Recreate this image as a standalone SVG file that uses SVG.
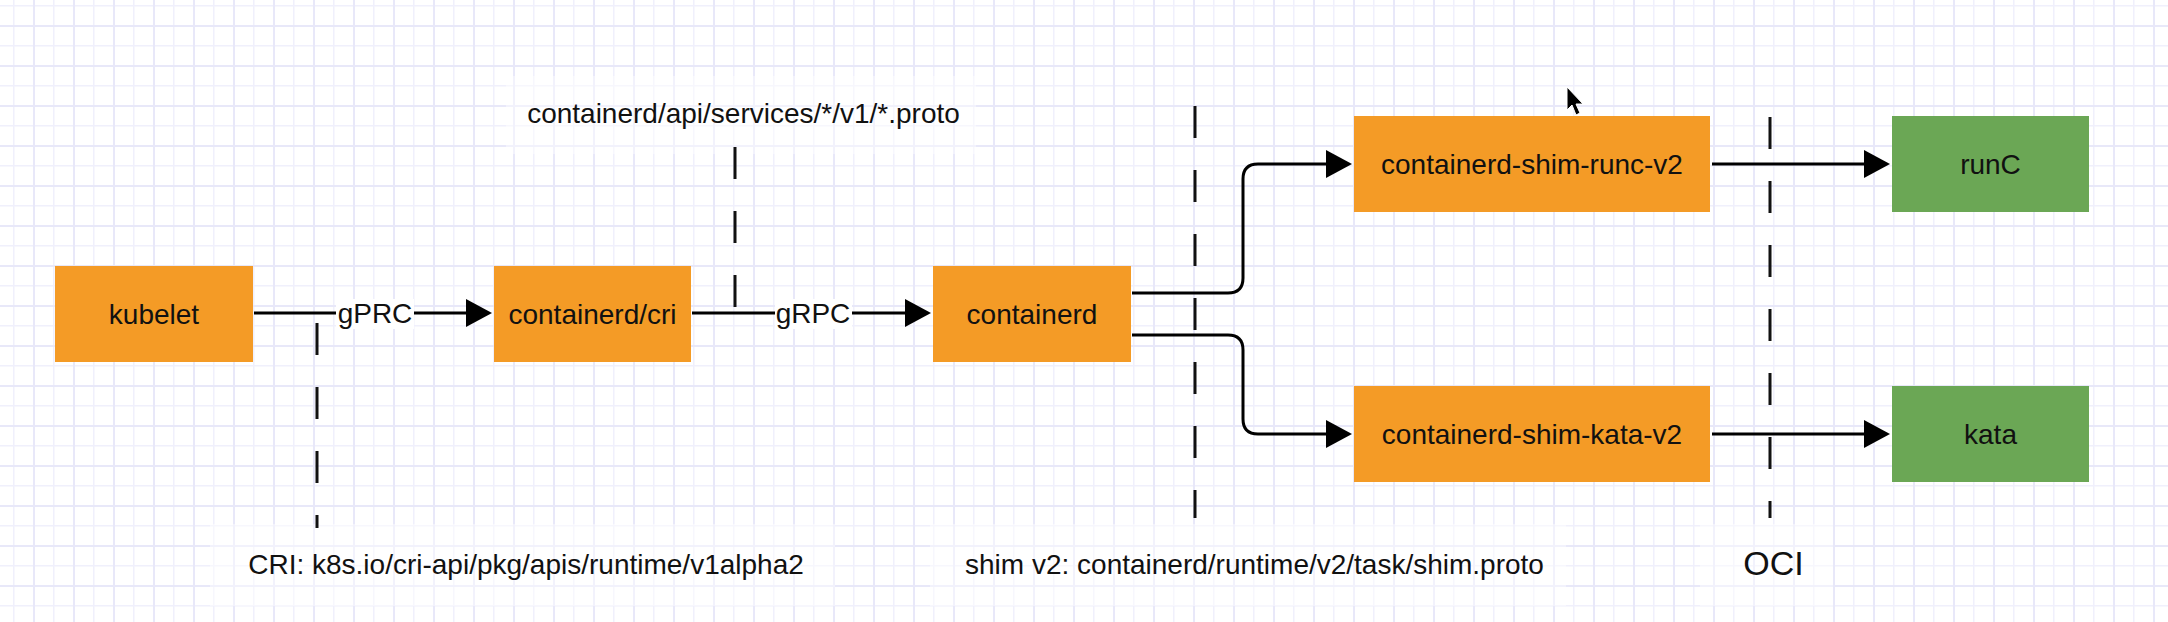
<svg xmlns="http://www.w3.org/2000/svg" width="2168" height="622" viewBox="0 0 2168 622">
<style>
  .t { font-family: "Liberation Sans", Arial, Helvetica, sans-serif; font-size: 28px; fill: #111; text-anchor: middle; }
  .orange { fill: #F49B26; }
  .green { fill: #6BA755; }
  .edge { fill: none; stroke: #000; stroke-width: 3; }
  .dash { fill: none; stroke: #111; stroke-width: 3; stroke-dasharray: 32 32; }
  .lblbg { fill: #fff; }
  .band { fill: #fff; opacity: 0.45; }
</style>
<defs>
  <pattern id="grid" patternUnits="userSpaceOnUse" x="13" y="5" width="40" height="40">
    <rect x="0" y="0" width="1.5" height="40" fill="#f0f0fc"/>
    <rect x="0" y="0" width="40" height="1.5" fill="#f0f0fc"/>
    <rect x="20" y="0" width="2" height="40" fill="#e8e8f9"/>
    <rect x="0" y="20" width="40" height="2" fill="#e8e8f9"/>
  </pattern>
  <marker id="arrow" markerUnits="userSpaceOnUse" viewBox="0 0 26 28" refX="1" refY="14" markerWidth="26" markerHeight="28" orient="auto">
    <path d="M0,0 L26,14 L0,28 Z" fill="#000"/>
  </marker>
</defs>

<rect x="0" y="0" width="2168" height="622" fill="#fff"/>
<rect x="0" y="0" width="2168" height="622" fill="url(#grid)"/>

<!-- whitish label bands -->
<rect class="band" x="506" y="76" width="470" height="78"/>
<rect class="band" x="210" y="524" width="625" height="82"/>
<rect class="band" x="930" y="524" width="636" height="82"/>
<rect class="band" x="1700" y="524" width="133" height="82"/>

<!-- dashed separators -->
<g id="separators">
  <line class="dash" x1="735" y1="147" x2="735" y2="307"/>
  <line class="dash" x1="317" y1="323" x2="317" y2="528"/>
  <line class="dash" x1="1195" y1="106" x2="1195" y2="518"/>
  <line class="dash" x1="1770" y1="117" x2="1770" y2="518"/>
</g>

<!-- connectors -->
<g id="connectors">
  <path class="edge" d="M254,313 H467" marker-end="url(#arrow)"/>
  <rect class="lblbg" x="336" y="299" width="78" height="30"/>
  <text class="t" x="375" y="323">gPRC</text>

  <path class="edge" d="M692,313 H906" marker-end="url(#arrow)"/>
  <rect class="lblbg" x="775" y="299" width="77" height="30"/>
  <text class="t" x="813" y="323">gRPC</text>

  <path class="edge" d="M1132,293 H1228 Q1243,293 1243,278 V179 Q1243,164 1258,164 H1327" marker-end="url(#arrow)"/>
  <path class="edge" d="M1132,335 H1228 Q1243,335 1243,350 V419 Q1243,434 1258,434 H1327" marker-end="url(#arrow)"/>
  <path class="edge" d="M1712,164 H1865" marker-end="url(#arrow)"/>
  <path class="edge" d="M1712,434 H1865" marker-end="url(#arrow)"/>
</g>

<!-- nodes -->
<g id="kubelet">
  <rect class="orange" x="55" y="266" width="198" height="96"/>
  <text class="t" x="154" y="324">kubelet</text>
</g>
<g id="containerd-cri">
  <rect class="orange" x="494" y="266" width="197" height="96"/>
  <text class="t" x="592.5" y="324">containerd/cri</text>
</g>
<g id="containerd">
  <rect class="orange" x="933" y="266" width="198" height="96"/>
  <text class="t" x="1032" y="324">containerd</text>
</g>
<g id="shim-runc">
  <rect class="orange" x="1354" y="116" width="356" height="96"/>
  <text class="t" x="1532" y="174">containerd-shim-runc-v2</text>
</g>
<g id="shim-kata">
  <rect class="orange" x="1354" y="386" width="356" height="96"/>
  <text class="t" x="1532" y="444">containerd-shim-kata-v2</text>
</g>
<g id="runc">
  <rect class="green" x="1892" y="116" width="197" height="96"/>
  <text class="t" x="1990.5" y="174">runC</text>
</g>
<g id="kata">
  <rect class="green" x="1892" y="386" width="197" height="96"/>
  <text class="t" x="1990.5" y="444">kata</text>
</g>

<!-- free labels -->
<g id="labels">
  <text class="t" x="743.5" y="123">containerd/api/services/*/v1/*.proto</text>
  <text class="t" x="526" y="574">CRI: k8s.io/cri-api/pkg/apis/runtime/v1alpha2</text>
  <text class="t" x="1254.5" y="574">shim v2: containerd/runtime/v2/task/shim.proto</text>
  <text class="t" x="1773.5" y="575" style="font-size:34px">OCI</text>
</g>

<!-- mouse pointer -->
<path d="M1567,87 L1567,110 L1572,105 L1576,115 L1580,113 L1576,104 L1583,104 Z" fill="#000" stroke="#fff" stroke-width="1"/>
</svg>
